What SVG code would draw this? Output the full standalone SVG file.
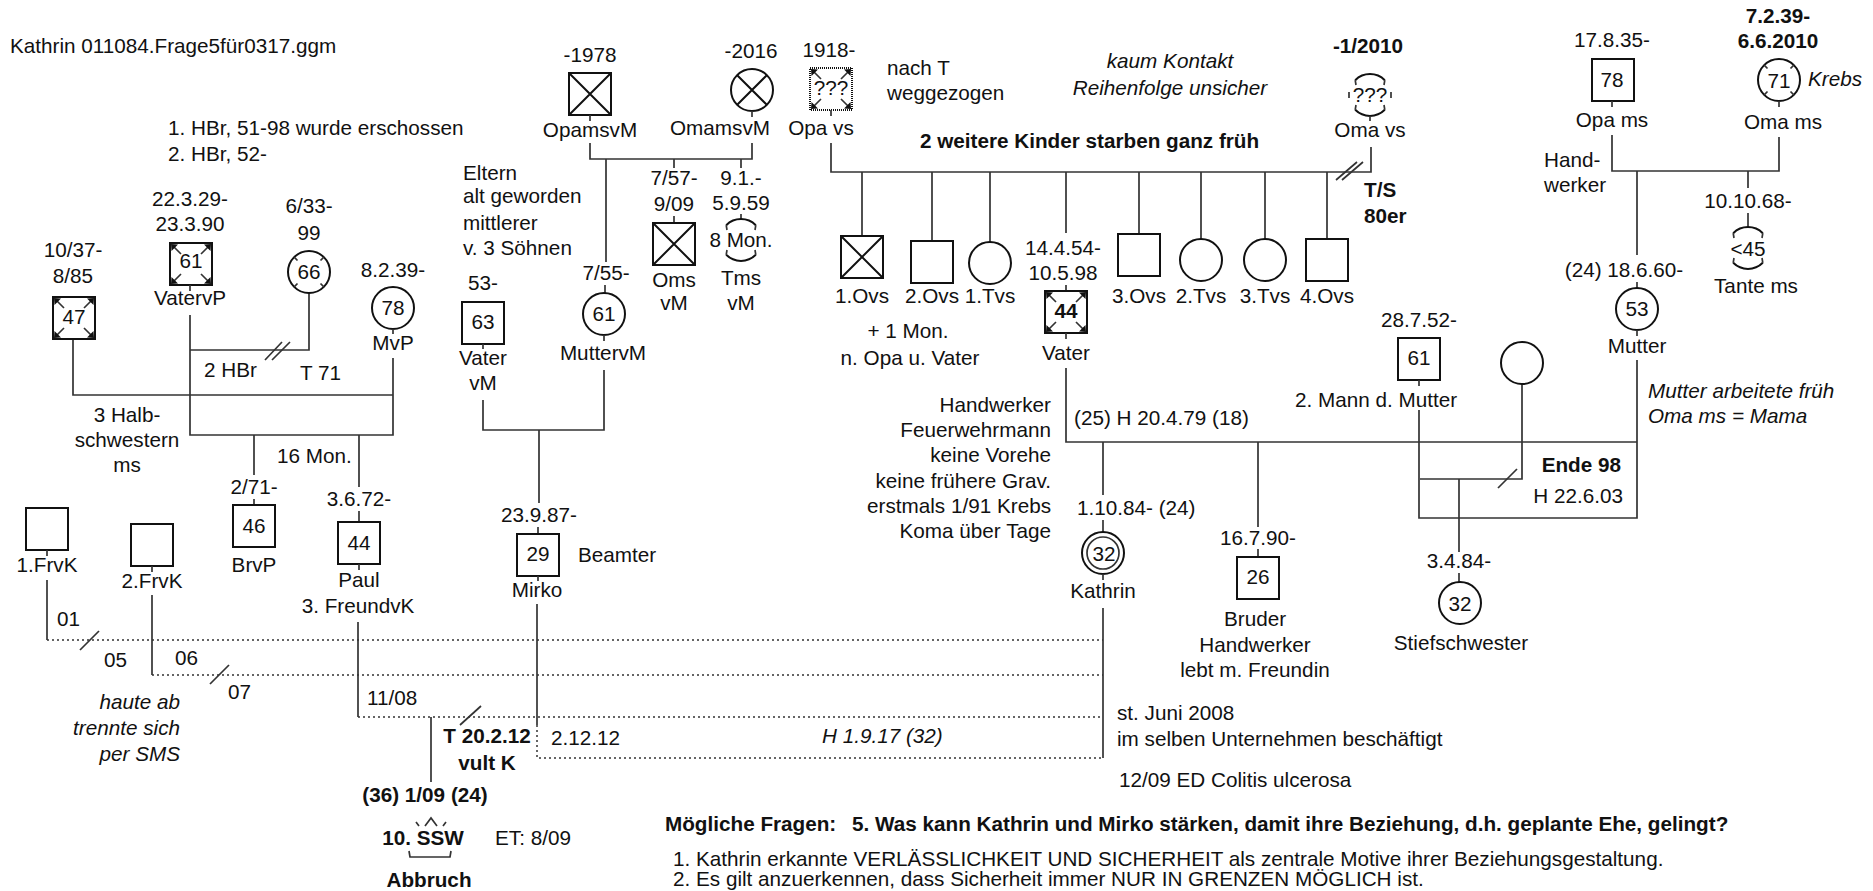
<svg xmlns="http://www.w3.org/2000/svg" xmlns:xlink="http://www.w3.org/1999/xlink" width="1873" height="891" viewBox="0 0 1873 891">
<style>
text{font-family:"Liberation Sans",Arial,sans-serif;font-size:20.7px;fill:#111}
.c{text-anchor:middle}.e{text-anchor:end}.b{font-weight:bold}.i{font-style:italic}
.sym{fill:none;stroke:#111;stroke-width:2}
.ln{fill:none;stroke:#333;stroke-width:1.7}
.dot{fill:none;stroke:#333;stroke-width:1.5;stroke-dasharray:2 3}
.fill{fill:#111;stroke:none}
</style>
<defs>
<g id="ca">
<path class="ln" d="M3,3 L11,11 M39,3 L31,11 M3,39 L11,31 M39,39 L31,31"/>
<path class="fill" d="M1,1 L8,1.5 L1.5,8 Z M41,1 L34,1.5 L40.5,8 Z M1,41 L8,40.5 L1.5,34 Z M41,41 L34,40.5 L40.5,34 Z"/>
</g>
<g id="ct">
<path class="ln" d="M-14.8,-14.8 L-11.5,-11.5 M14.8,-14.8 L11.5,-11.5 M-14.8,14.8 L-11.5,11.5 M14.8,14.8 L11.5,11.5"/>
</g>
<g id="arc">
<path class="sym" d="M-14.8,-14.8 A21,21 0 0 1 14.8,-14.8 M-14.8,14.8 A21,21 0 0 0 14.8,14.8"/>
<path class="ln" d="M-14.8,-14.8 L-14,-10 M14.8,-14.8 L14,-10 M-14.8,14.8 L-14,10 M14.8,14.8 L14,10"/>
</g>
</defs>
<rect width="1873" height="891" fill="#fff"/>

<g id="connectors">
<path class="ln" d="M190,315 V435 H393 V358"/>
<path class="ln" d="M309,293 V350 H190"/>
<path class="ln" d="M265,360 L282,342 M272,360 L290,342"/>
<path class="ln" d="M73,339 V395 H393"/>
<path class="ln" d="M254,435 V475 M359,435 V487"/>
<path class="ln" d="M47,580 V640"/>
<path class="dot" d="M47,640 H1103"/>
<path class="ln" d="M80,650 L99,631"/>
<path class="ln" d="M152,595 V675"/>
<path class="dot" d="M152,675 H1103"/>
<path class="ln" d="M210,684 L229,665"/>
<path class="ln" d="M358,622 V717"/>
<path class="dot" d="M358,717 H1103"/>
<path class="ln" d="M460,725 L481,706"/>
<path class="ln" d="M431,717 V782"/>
<path class="ln" d="M537,604 V725"/>
<path class="dot" d="M537,725 V758 H1103"/>
<path class="ln" d="M1103,608 V758"/>
<path class="ln" d="M483,400 V430 H604 V370 M539,430 V503"/>
<path class="ln" d="M590,143 V159 H752 V143 M606,159 V262 M674,159 V168 M741,159 V168"/>
<path class="ln" d="M831,143 V172 H1371 V147"/>
<path class="ln" d="M1336,180 L1357,162 M1342,180 L1363,162"/>
<path class="ln" d="M862,172 V236 M932,172 V241 M990,172 V242 M1066,172 V233 M1139,172 V234 M1201,172 V239 M1265,172 V239 M1327,172 V239"/>
<path class="ln" d="M1066,368 V442 H1637 M1103,442 V495 M1258,442 V527"/>
<path class="ln" d="M1419,410 V518 H1637 V360"/>
<path class="ln" d="M1522,384 V479 H1420"/>
<path class="ln" d="M1498,488 L1517,469"/>
<path class="ln" d="M1459,479 V552"/>
<path class="ln" d="M1612,135 V171 H1779 V137 M1637,171 V255 M1748,171 V188"/>
</g>

<g id="notes">
<text x="10" y="53">Kathrin 011084.Frage5für0317.ggm</text>
<text x="168" y="135">1. HBr, 51-98 wurde erschossen</text>
<text x="168" y="161">2. HBr, 52-</text>
<text x="204" y="377">2 HBr</text>
<text x="300" y="380">T 71</text>
<text class="c" x="127" y="422">3 Halb-</text>
<text class="c" x="127" y="447">schwestern</text>
<text class="c" x="127" y="472">ms</text>
<text x="277" y="463">16 Mon.</text>
<text x="57" y="626">01</text>
<text x="104" y="667">05</text>
<text x="175" y="665">06</text>
<text x="228" y="699">07</text>
<text class="e i" x="180" y="709">haute ab</text>
<text class="e i" x="180" y="735">trennte sich</text>
<text class="e i" x="180" y="761">per SMS</text>
<text x="367" y="705">11/08</text>
<text class="c b" x="487" y="743">T 20.2.12</text>
<text class="c b" x="487" y="770">vult K</text>
<text x="551" y="745">2.12.12</text>
<text class="i" x="822" y="743">H 1.9.17 (32)</text>
<text class="c b" x="425" y="802">(36) 1/09 (24)</text>
<text x="495" y="845">ET: 8/09</text>
<text x="463" y="180">Eltern</text>
<text x="463" y="203">alt geworden</text>
<text x="463" y="230">mittlerer</text>
<text x="463" y="255">v. 3 Söhnen</text>
<text x="578" y="562">Beamter</text>
<text x="887" y="75">nach T</text>
<text x="887" y="100">weggezogen</text>
<text class="c i" x="1170" y="68">kaum Kontakt</text>
<text class="c i" x="1170" y="95">Reihenfolge unsicher</text>
<text class="b" x="920" y="148">2 weitere Kinder starben ganz früh</text>
<text class="b" x="1364" y="197">T/S</text>
<text class="b" x="1364" y="223">80er</text>
<text class="c" x="908" y="338">+ 1 Mon.</text>
<text class="c" x="910" y="365">n. Opa u. Vater</text>
<text class="e" x="1051" y="412">Handwerker</text>
<text class="e" x="1051" y="437">Feuerwehrmann</text>
<text class="e" x="1051" y="462">keine Vorehe</text>
<text class="e" x="1051" y="488">keine frühere Grav.</text>
<text class="e" x="1051" y="513">erstmals 1/91 Krebs</text>
<text class="e" x="1051" y="538">Koma über Tage</text>
<text x="1074" y="425">(25) H 20.4.79 (18)</text>
<text x="1117" y="720">st. Juni 2008</text>
<text x="1117" y="746">im selben Unternehmen beschäftigt</text>
<text x="1119" y="787">12/09 ED Colitis ulcerosa</text>
<text class="e b" x="1621" y="472">Ende 98</text>
<text class="e" x="1623" y="503">H 22.6.03</text>
<text class="i" x="1648" y="398">Mutter arbeitete früh</text>
<text class="i" x="1648" y="423">Oma ms = Mama</text>
<text x="1544" y="167">Hand-</text>
<text x="1544" y="192">werker</text>
<text class="b" x="665" y="831">Mögliche Fragen:</text>
<text class="b" x="852" y="831">5. Was kann Kathrin und Mirko stärken, damit ihre Beziehung, d.h. geplante Ehe, gelingt?</text>
<text x="673" y="866">1. Kathrin erkannte VERLÄSSLICHKEIT UND SICHERHEIT als zentrale Motive ihrer Beziehungsgestaltung.</text>
<text x="673" y="886">2. Es gilt anzuerkennen, dass Sicherheit immer NUR IN GRENZEN MÖGLICH ist.</text>
</g>

<g id="VatervP">
<text class="c" x="190" y="206">22.3.29-</text><text class="c" x="190" y="231">23.3.90</text>
<rect class="sym" x="170" y="243" width="42" height="42"/><use xlink:href="#ca" x="170" y="243"/>
<text class="c" x="191" y="268">61</text>
<path class="ln" d="M190,285 V291"/>
<text class="c" x="190" y="305">VatervP</text>
</g>
<g id="frau66">
<text class="c" x="309" y="213">6/33-</text><text class="c" x="309" y="240">99</text>
<circle class="sym" cx="309" cy="272" r="21"/><use xlink:href="#ct" x="309" y="272"/>
<text class="c" x="309" y="279">66</text>
</g>
<g id="MvP">
<text class="c" x="393" y="277">8.2.39-</text>
<circle class="sym" cx="393" cy="308" r="21"/>
<text class="c" x="393" y="315">78</text>
<path class="ln" d="M393,329 V334"/>
<text class="c" x="393" y="350">MvP</text>
</g>
<g id="mann47">
<text class="c" x="73" y="257">10/37-</text><text class="c" x="73" y="283">8/85</text>
<rect class="sym" x="53" y="297" width="42" height="42"/><use xlink:href="#ca" x="53" y="297"/>
<text class="c" x="74" y="324">47</text>
</g>
<g id="BrvP">
<text class="c" x="254" y="494">2/71-</text>
<path class="ln" d="M254,499 V505"/>
<rect class="sym" x="233" y="505" width="42" height="42"/>
<text class="c" x="254" y="533">46</text>
<text class="c" x="254" y="572">BrvP</text>
</g>
<g id="Paul">
<text class="c" x="359" y="506">3.6.72-</text>
<path class="ln" d="M359,511 V522"/>
<rect class="sym" x="338" y="522" width="42" height="42"/>
<text class="c" x="359" y="550">44</text>
<path class="ln" d="M359,564 V570"/>
<text class="c" x="359" y="587">Paul</text>
<text class="c" x="358" y="613">3. FreundvK</text>
</g>
<g id="FrvK1">
<rect class="sym" x="26" y="508" width="42" height="42"/>
<path class="ln" d="M47,550 V556"/>
<text class="c" x="47" y="572">1.FrvK</text>
</g>
<g id="FrvK2">
<rect class="sym" x="131" y="524" width="42" height="42"/>
<path class="ln" d="M152,566 V572"/>
<text class="c" x="152" y="588">2.FrvK</text>
</g>
<g id="Abbruch">
<path class="ln" d="M425,826 L431,818 L437,826 M416,822 L419,826 M446,822 L443,826"/>
<path class="ln" d="M409,851 L410,857 H450 L451,851"/>
<text class="c b" x="423" y="845">10. SSW</text>
<text class="c b" x="429" y="887">Abbruch</text>
</g>
<g id="Mirko">
<text class="c" x="539" y="522">23.9.87-</text>
<path class="ln" d="M538,527 V534"/>
<rect class="sym" x="517" y="534" width="42" height="42"/>
<text class="c" x="538" y="561">29</text>
<path class="ln" d="M538,576 V581"/>
<text class="c" x="537" y="597">Mirko</text>
</g>
<g id="VatervM">
<text class="c" x="483" y="290">53-</text>
<rect class="sym" x="462" y="302" width="42" height="42"/>
<text class="c" x="483" y="329">63</text>
<path class="ln" d="M483,344 V349"/>
<text class="c" x="483" y="365">Vater</text><text class="c" x="483" y="390">vM</text>
</g>
<g id="MuttervM">
<text class="c" x="606" y="280">7/55-</text>
<path class="ln" d="M605,285 V293"/>
<circle class="sym" cx="604" cy="314" r="21"/>
<text class="c" x="604" y="321">61</text>
<path class="ln" d="M604,335 V341"/>
<text class="c" x="603" y="360">MuttervM</text>
</g>
<g id="OpamsvM">
<text class="c" x="590" y="62">-1978</text>
<rect class="sym" x="569" y="73" width="42" height="42"/>
<path class="sym" d="M569,73 L611,115 M611,73 L569,115"/>
<path class="ln" d="M590,115 V121"/>
<text class="c" x="590" y="137">OpamsvM</text>
</g>
<g id="OmamsvM">
<text class="c" x="751" y="58">-2016</text>
<circle class="sym" cx="752" cy="90" r="21"/>
<path class="sym" d="M737.2,75.2 L766.8,104.8 M766.8,75.2 L737.2,104.8"/>
<path class="ln" d="M752,111 V117"/>
<text class="c" x="720" y="135">OmamsvM</text>
</g>
<g id="Oms">
<text class="c" x="674" y="185">7/57-</text><text class="c" x="674" y="211">9/09</text>
<path class="ln" d="M674,216 V223"/>
<rect class="sym" x="653" y="223" width="42" height="42"/>
<path class="sym" d="M653,223 L695,265 M695,223 L653,265"/>
<text class="c" x="674" y="287">Oms</text><text class="c" x="674" y="310">vM</text>
</g>
<g id="Tms">
<text class="c" x="741" y="185">9.1.-</text><text class="c" x="741" y="210">5.9.59</text>
<path class="ln" d="M741,214 V219"/>
<use xlink:href="#arc" x="741" y="240"/>
<text class="c" x="741" y="247">8 Mon.</text>
<text class="c" x="741" y="285">Tms</text><text class="c" x="741" y="310">vM</text>
</g>
<g id="Opavs">
<text class="c" x="829" y="57">1918-</text>
<rect class="sym" x="810" y="68" width="42" height="42" stroke-dasharray="1 1" stroke="#999"/><use xlink:href="#ca" x="810" y="68"/>
<text class="c" x="831" y="95">???</text>
<path class="ln" d="M831,110 V116"/>
<text class="c" x="821" y="135">Opa vs</text>
</g>
<g id="Omavs">
<text class="c b" x="1368" y="53">-1/2010</text>
<use xlink:href="#arc" x="1370" y="95"/>
<path class="ln" d="M1349,92 V98 M1391,92 V98"/>
<text class="c" x="1370" y="102">???</text>
<path class="ln" d="M1370,116 V121"/>
<text class="c" x="1370" y="137">Oma vs</text>
</g>
<g id="Ovs1">
<rect class="sym" x="841" y="236" width="42" height="42"/>
<path class="sym" d="M841,236 L883,278 M883,236 L841,278"/>
<text class="c" x="862" y="303">1.Ovs</text>
</g>
<g id="Ovs2">
<rect class="sym" x="911" y="241" width="42" height="42"/>
<text class="c" x="932" y="303">2.Ovs</text>
</g>
<g id="Tvs1">
<circle class="sym" cx="990" cy="263" r="21"/>
<text class="c" x="990" y="303">1.Tvs</text>
</g>
<g id="Vater">
<text class="c" x="1063" y="255">14.4.54-</text><text class="c" x="1063" y="280">10.5.98</text>
<path class="ln" d="M1066,285 V291"/>
<rect class="sym" x="1045" y="291" width="42" height="42"/><use xlink:href="#ca" x="1045" y="291"/>
<text class="c b" x="1066" y="318">44</text>
<path class="ln" d="M1066,333 V339"/>
<text class="c" x="1066" y="360">Vater</text>
</g>
<g id="Ovs3">
<rect class="sym" x="1118" y="234" width="42" height="42"/>
<text class="c" x="1139" y="303">3.Ovs</text>
</g>
<g id="Tvs2">
<circle class="sym" cx="1201" cy="260" r="21"/>
<text class="c" x="1201" y="303">2.Tvs</text>
</g>
<g id="Tvs3">
<circle class="sym" cx="1265" cy="260" r="21"/>
<text class="c" x="1265" y="303">3.Tvs</text>
</g>
<g id="Ovs4">
<rect class="sym" x="1306" y="239" width="42" height="42"/>
<text class="c" x="1327" y="303">4.Ovs</text>
</g>
<g id="Kathrin">
<text x="1077" y="515">1.10.84- (24)</text>
<path class="ln" d="M1103,520 V532"/>
<circle class="sym" cx="1103" cy="553" r="21"/>
<circle class="ln" cx="1103" cy="553" r="16"/>
<text class="c" x="1104" y="561">32</text>
<path class="ln" d="M1103,574 V580"/>
<text class="c" x="1103" y="598">Kathrin</text>
</g>
<g id="Bruder">
<text class="c" x="1258" y="545">16.7.90-</text>
<path class="ln" d="M1258,549 V557"/>
<rect class="sym" x="1237" y="557" width="42" height="42"/>
<text class="c" x="1258" y="584">26</text>
<text class="c" x="1255" y="626">Bruder</text>
<text class="c" x="1255" y="652">Handwerker</text>
<text class="c" x="1255" y="677">lebt m. Freundin</text>
</g>
<g id="Mann2">
<text class="c" x="1419" y="327">28.7.52-</text>
<rect class="sym" x="1398" y="338" width="42" height="42"/>
<text class="c" x="1419" y="365">61</text>
<path class="ln" d="M1419,380 V386"/>
<text x="1295" y="407">2. Mann d. Mutter</text>
</g>
<g id="Frau2">
<circle class="sym" cx="1522" cy="363" r="21"/>
</g>
<g id="Stiefschwester">
<text class="c" x="1459" y="568">3.4.84-</text>
<path class="ln" d="M1459,573 V582"/>
<circle class="sym" cx="1460" cy="603" r="21"/>
<text class="c" x="1460" y="611">32</text>
<text class="c" x="1461" y="650">Stiefschwester</text>
</g>
<g id="Mutter">
<text class="c" x="1624" y="277">(24) 18.6.60-</text>
<path class="ln" d="M1637,282 V288"/>
<circle class="sym" cx="1637" cy="309" r="21"/>
<text class="c" x="1637" y="316">53</text>
<path class="ln" d="M1637,330 V336"/>
<text class="c" x="1637" y="353">Mutter</text>
</g>
<g id="Opams">
<text class="c" x="1612" y="47">17.8.35-</text>
<rect class="sym" x="1592" y="59" width="42" height="42"/>
<text class="c" x="1612" y="87">78</text>
<path class="ln" d="M1612,101 V107"/>
<text class="c" x="1612" y="127">Opa ms</text>
</g>
<g id="Omams">
<text class="c b" x="1778" y="23">7.2.39-</text><text class="c b" x="1778" y="48">6.6.2010</text>
<circle class="sym" cx="1779" cy="80" r="21"/><use xlink:href="#ct" x="1779" y="80"/>
<text class="c" x="1779" y="88">71</text>
<text class="i" x="1808" y="86">Krebs</text>
<path class="ln" d="M1779,101 V107"/>
<text class="c" x="1783" y="129">Oma ms</text>
</g>
<g id="Tantems">
<text class="c" x="1748" y="208">10.10.68-</text>
<path class="ln" d="M1748,213 V227"/>
<use xlink:href="#arc" x="1748" y="248"/>
<text class="c" x="1748" y="256">&lt;45</text>
<text class="c" x="1756" y="293">Tante ms</text>
</g>
</svg>
